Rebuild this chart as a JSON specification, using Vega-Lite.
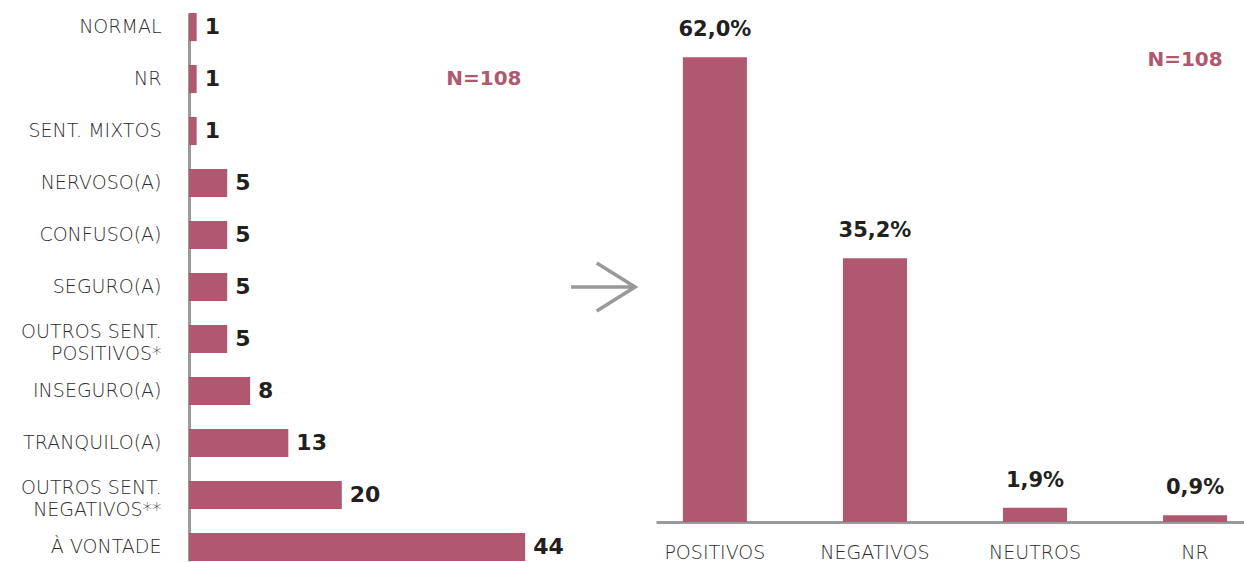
{
  "$schema": "https://vega.github.io/schema/vega-lite/v6.json",
  "padding": {"left": 10, "top": 13, "right": 0, "bottom": 0},
  "background": "white",
  "spacing": 13,
  "config": {"view": {"stroke": null}},
  "hconcat": [
    {
      "width": 451,
      "height": 548,
      "layer": [
        {
          "data": {"values": [
            {"cat": "NORMAL", "v": 1},
            {"cat": "NR", "v": 1},
            {"cat": "SENT. MIXTOS", "v": 1},
            {"cat": "NERVOSO(A)", "v": 5},
            {"cat": "CONFUSO(A)", "v": 5},
            {"cat": "SEGURO(A)", "v": 5},
            {"cat": "OUTROS SENT.|POSITIVOS*", "v": 5},
            {"cat": "INSEGURO(A)", "v": 8},
            {"cat": "TRANQUILO(A)", "v": 13},
            {"cat": "OUTROS SENT.|NEGATIVOS**", "v": 20},
            {"cat": "À VONTADE", "v": 44}
          ]},
          "layer": [
            {
              "mark": {"type": "bar", "color": "#B0586F"},
              "encoding": {
                "x": {"field": "v", "type": "quantitative", "scale": {"domain": [0, 59.03], "nice": false, "zero": true}, "axis": null},
                "y": {"field": "cat", "type": "nominal", "sort": null,
                  "scale": {"domain": ["NORMAL", "NR", "SENT. MIXTOS", "NERVOSO(A)", "CONFUSO(A)", "SEGURO(A)", "OUTROS SENT.|POSITIVOS*", "INSEGURO(A)", "TRANQUILO(A)", "OUTROS SENT.|NEGATIVOS**", "À VONTADE"], "paddingInner": 0.46, "paddingOuter": 0},
                  "axis": {"title": null, "ticks": false, "domain": true, "domainColor": "#9a9a9a", "domainWidth": 3, "labelPadding": 28, "labelFont": "DejaVu Sans", "labelFontWeight": 200, "labelFontSize": 19, "labelColor": "#2e2e2e", "labelLineHeight": 22, "labelExpr": "split(datum.label, '|')",
                    "labelOffset": {"condition": {"test": "indexof(datum.value, '|') >= 0", "value": -7}, "value": 0},
                    "minExtent": 179, "maxExtent": 179, "grid": false}}
              }
            },
            {
              "mark": {"type": "text", "align": "left", "baseline": "middle", "dx": 8, "font": "DejaVu Sans", "fontWeight": "bold", "fontSize": 22, "color": "#231F20"},
              "encoding": {
                "x": {"field": "v", "type": "quantitative"},
                "y": {"field": "cat", "type": "nominal", "sort": null},
                "text": {"field": "v", "type": "quantitative"}
              }
            }
          ]
        },
        {
          "data": {"values": [{"x": 38.6, "cat": "NR", "t": "N=108"}]},
          "mark": {"type": "text", "align": "center", "baseline": "middle", "font": "DejaVu Sans", "fontWeight": "bold", "fontSize": 20, "color": "#B0586F"},
          "encoding": {
            "x": {"field": "x", "type": "quantitative"},
            "y": {"field": "cat", "type": "nominal"},
            "text": {"field": "t"}
          }
        },
        {
          "data": {"values": [{"x": 54.2, "cat": "SEGURO(A)"}]},
          "mark": {"type": "point", "shape": "M-1,0L0.98,0M-0.2,-0.75L1,0L-0.2,0.75", "size": 4096, "filled": false, "stroke": "#999999", "strokeWidth": 3.5, "opacity": 1},
          "encoding": {
            "x": {"field": "x", "type": "quantitative"},
            "y": {"field": "cat", "type": "nominal"}
          }
        }
      ]
    },
    {
      "width": 589,
      "height": 509,
      "layer": [
        {
          "data": {"values": [
            {"cat": "POSITIVOS", "p": 62.0, "lab": "62,0%"},
            {"cat": "NEGATIVOS", "p": 35.2, "lab": "35,2%"},
            {"cat": "NEUTROS", "p": 1.9, "lab": "1,9%"},
            {"cat": "NR", "p": 0.9, "lab": "0,9%"}
          ]},
          "layer": [
            {
              "mark": {"type": "bar", "color": "#B0586F"},
              "encoding": {
                "x": {"field": "cat", "type": "nominal", "sort": null,
                  "scale": {"domain": ["POSITIVOS", "NEGATIVOS", "NEUTROS", "NR"], "paddingInner": 0.6, "paddingOuter": 0.14, "align": 0.6},
                  "axis": {"title": null, "ticks": false, "domainColor": "#9a9a9a", "domainWidth": 3, "labelPadding": 21, "labelAngle": 0, "labelFont": "DejaVu Sans", "labelFontWeight": 200, "labelFontSize": 19, "labelColor": "#2e2e2e"}},
                "y": {"field": "p", "type": "quantitative", "scale": {"domain": [0, 67.9], "nice": false}, "axis": null}
              }
            },
            {
              "mark": {"type": "text", "align": "center", "baseline": "middle", "dy": -27, "font": "DejaVu Sans", "fontWeight": "bold", "fontSize": 21, "color": "#231F20"},
              "encoding": {
                "x": {"field": "cat", "type": "nominal", "sort": null},
                "y": {"field": "p", "type": "quantitative"},
                "text": {"field": "lab"}
              }
            }
          ]
        },
        {
          "data": {"values": [{"cat": "NR", "y": 61.6, "t": "N=108"}]},
          "mark": {"type": "text", "align": "center", "baseline": "middle", "dx": -10, "font": "DejaVu Sans", "fontWeight": "bold", "fontSize": 20, "color": "#B0586F"},
          "encoding": {
            "x": {"field": "cat", "type": "nominal"},
            "y": {"field": "y", "type": "quantitative"},
            "text": {"field": "t"}
          }
        }
      ]
    }
  ]
}
